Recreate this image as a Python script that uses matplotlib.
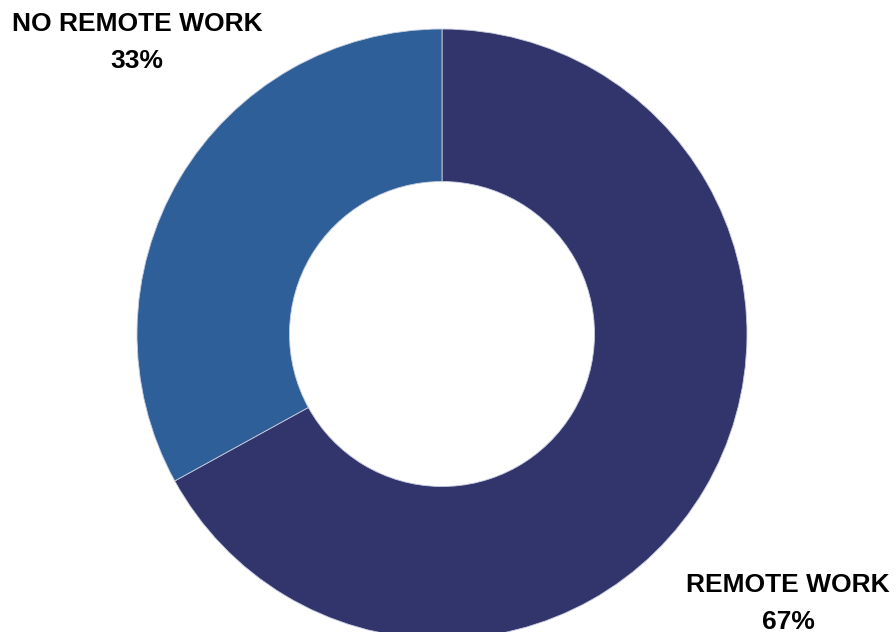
import matplotlib
matplotlib.use("Agg")
import matplotlib.pyplot as plt

plt.rcParams["font.family"] = ["Liberation Sans", "DejaVu Sans"]

# data
categories = ["REMOTE WORK", "NO REMOTE WORK"]
shares = [67, 33]
colors = ["#32356c", "#2e5f98"]

W, H = 896, 632
fig = plt.figure(figsize=(W / 100, H / 100), dpi=100)
ax = fig.add_axes([0, 0, 1, 1])
ax.set_xlim(0, W)
ax.set_ylim(0, H)
ax.set_aspect("equal")
ax.axis("off")

# donut, centred in pixel coords (y flipped)
cx, cy, r = 442, H - 334, 305
ax.pie(shares, colors=colors, startangle=90, counterclock=False,
       center=(cx, cy), radius=r,
       wedgeprops=dict(width=r * 0.5, edgecolor="#c8cde0", linewidth=0.6))
ax.set_xlim(0, W)
ax.set_ylim(0, H)

# labels
label_pos = {"NO REMOTE WORK": (137, 24), "REMOTE WORK": (788, 585)}
for name, val in zip(categories, shares):
    x, y = label_pos[name]
    ax.text(x, H - y, name, ha="center", va="center", fontsize=19,
            fontweight="bold", color="black")
    ax.text(x, H - y - 37, f"{val}%", ha="center", va="center", fontsize=19,
            fontweight="bold", color="black")

fig.savefig("out.png", dpi=100)
